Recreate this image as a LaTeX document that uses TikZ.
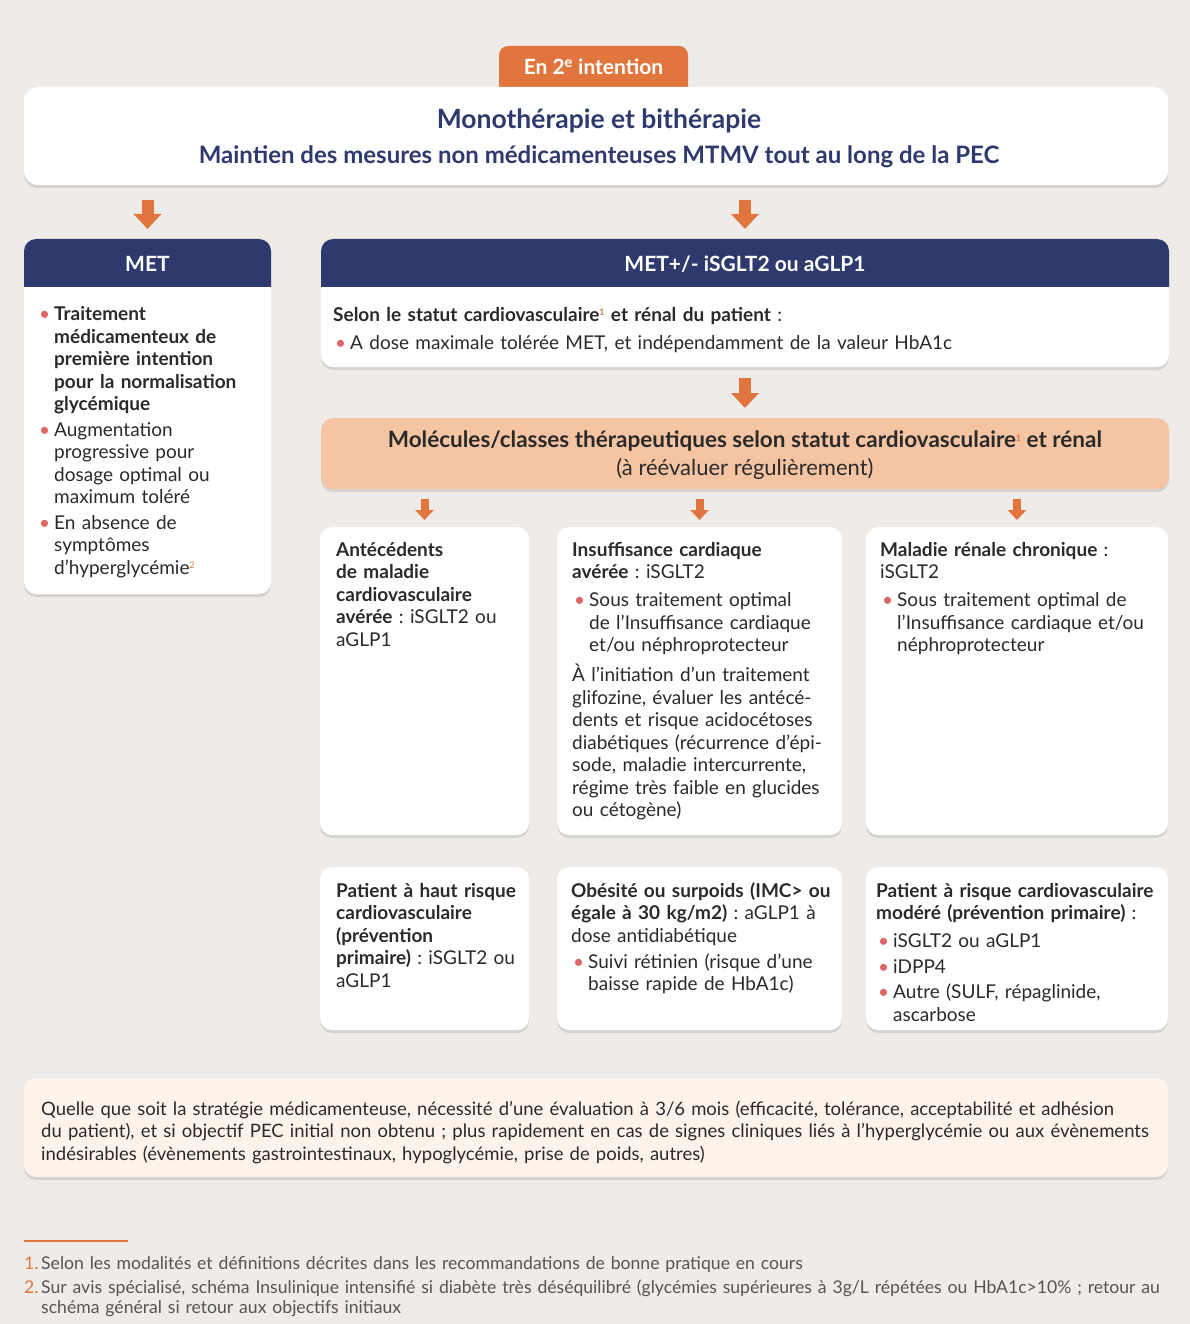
\documentclass[tikz,border=0pt]{standalone}
\usepackage{fontspec}
\setmainfont{Lato}
\usepackage{tikz}
\usetikzlibrary{positioning,arrows.meta,calc,shadows}
\definecolor{PageBg}{HTML}{EEEBE8}
\definecolor{Navy}{HTML}{2E3A6E}
\definecolor{Orng}{HTML}{E0763E}
\definecolor{Peach}{HTML}{F5C5A3}
\definecolor{Cream}{HTML}{FDF3EA}
\definecolor{Ink}{HTML}{2A2A2A}
\definecolor{Dot}{HTML}{E06666}
\definecolor{Note}{HTML}{555555}
\setlength{\parindent}{0pt}
\frenchspacing
\newcommand{\fl}{\rule{0pt}{18pt}}
\newcommand{\fn}[1]{\raisebox{6pt}{\fontsize{9}{9}\selectfont\textcolor{Orng}{#1}}}
\newcommand{\bitem}[2][3pt]{\par\vspace{#1}\noindent\hangindent=17pt\hangafter=1%
  \makebox[17pt][l]{\hspace{2pt}\textcolor{Dot}{\textbullet}}\fl#2\par}
\newcommand{\nitem}[2]{\par\noindent\hangindent=17pt\hangafter=1%
  \makebox[17pt][l]{\textcolor{Orng}{#1}}\rule{0pt}{16pt}#2\par}

\begin{document}
\begin{tikzpicture}[x=1pt,y=-1pt,
  font=\fontsize{19}{22.5}\selectfont,
  box/.style={fill=white,rounded corners=12pt,inner sep=0pt,outer sep=0pt,anchor=north west,
    drop shadow={shadow xshift=0pt,shadow yshift=-3pt,fill=black,opacity=.10}},
  tab/.style={fill=Orng,rounded corners=9pt,inner sep=0pt,outer sep=0pt},
  txt/.style={inner sep=0pt,anchor=north west,align=left,text=Ink},
  hd/.style={text=white,font=\fontsize{21}{24}\selectfont\bfseries},
  ar/.style={draw=Orng,line width=12pt,-{Triangle[width=27pt,length=15pt]}},
  sar/.style={draw=Orng,line width=8pt,-{Triangle[width=18pt,length=10pt]}},
]
\path[use as bounding box,fill=PageBg] (0,0) rectangle (1190,1324);

% tab and heading box
\node[tab,minimum width=189pt,minimum height=56pt,anchor=north] (tab) at (593.5,46) {};
\node[font=\fontsize{21}{24}\selectfont\bfseries,text=white] (tabT) at (593.5,67) {En 2\textsuperscript{e} intention};
\node[box,rounded corners=14pt,minimum width=1144pt,minimum height=98pt] (top) at (24,87) {};
\node[font=\fontsize{26.5}{30}\selectfont\bfseries,text=Navy] (ttl) at (599,121) {Monothérapie et bithérapie};
\node[font=\fontsize{24}{27}\selectfont\bfseries,text=Navy] (sub) at (599,157)
  {Maintien des mesures non médicamenteuses MTMV tout au long de la PEC};

% two treatment columns
\node[box,minimum width=247pt,minimum height=355pt] (met) at (24,239) {};
\node[box,minimum width=848pt,minimum height=128pt] (mix) at (321,239) {};
\foreach \b in {met,mix}{
  \begin{scope}
    \clip (\b.north west) rectangle ($(\b.north east)+(0,47)$);
    \fill[Navy,rounded corners=12pt] (\b.north west) rectangle (\b.south east);
  \end{scope}}
\node[hd] (metH) at ($(met.north)+(0,25)$) {MET};
\node[hd] (mixH) at ($(mix.north)+(0,25)$) {MET+/- iSGLT2 ou aGLP1};
\draw[ar] ($(top.south -| met.north)+(0,15)$) -- ($(met.north)+(0,-10)$);
\draw[ar] ($(top.south -| mix.north)+(0,15)$) -- ($(mix.north)+(0,-10)$);

\node[txt,text width=228pt] (metT) at (37,298) {%
  \bitem[0pt]{\textbf{Traitement\newline médicamenteux de\newline première intention\newline pour la normalisation\newline glycémique}}
  \bitem{Augmentation\newline progressive pour\newline dosage optimal ou\newline maximum toléré}
  \bitem{En absence de\newline symptômes\newline d'hyperglycémie\fn{2}}};
\node[txt,text width=820pt] (mixT) at (333,303) {%
  \fl\textbf{Selon le statut cardiovasculaire\fn{1} et rénal du patient} :
  \bitem[5.5pt]{A dose maximale tolérée MET, et indépendamment de la valeur HbA1c}};

% molecules by status
\node[box,fill=Peach,minimum width=848pt,minimum height=71pt] (mol) at (321,418) {};
\draw[ar] ($(mix.south)+(0,11)$) -- ($(mol.north)+(0,-10)$);
\node[font=\fontsize{22.5}{25}\selectfont\bfseries,text=Ink] (molT) at (745,441)
  {Molécules/classes thérapeutiques selon statut cardiovasculaire\fn{1} et rénal};
\node[font=\fontsize{22}{25}\selectfont,text=Ink] (molS) at (745,469) {(à réévaluer régulièrement)};

\node[box,minimum width=209pt,minimum height=308pt] (c1) at (320,527) {};
\node[box,minimum width=285pt,minimum height=308pt] (c2) at (557,527) {};
\node[box,minimum width=302pt,minimum height=308pt] (c3) at (866,527) {};
\node[box,minimum width=209pt,minimum height=163pt] (c4) at (320,867) {};
\node[box,minimum width=285pt,minimum height=163pt] (c5) at (557,867) {};
\node[box,minimum width=302pt,minimum height=163pt] (c6) at (866,867) {};
\foreach \c in {c1,c2,c3}
  \draw[sar] ($(mol.south -| \c.north)+(0,10)$) -- ($(\c.north)+(0,-7)$);

\node[txt,text width=190pt] (c1T) at (336,538) {%
  \fl\textbf{Antécédents\\ de maladie\\ cardiovasculaire\\ avérée} : iSGLT2 ou\\ aGLP1};
\node[txt,text width=270pt] (c2T) at (572,538) {%
  \fl\textbf{Insuffisance cardiaque\\ avérée} : iSGLT2
  \bitem[5.5pt]{Sous traitement optimal\newline de l'Insuffisance cardiaque\newline et/ou néphroprotecteur}
  \vspace{7.5pt}À l'initiation d'un traitement\\ glifozine, évaluer les antécé-\\ dents et risque acidocétoses\\
  diabétiques (récurrence d'épi-\\ sode, maladie intercurrente,\\ régime très faible en glucides\\ ou cétogène)};
\node[txt,text width=288pt] (c3T) at (880,538) {%
  \fl\textbf{Maladie rénale chronique} :\\ iSGLT2
  \bitem[5.5pt]{Sous traitement optimal de\newline l'Insuffisance cardiaque et/ou\newline néphroprotecteur}};
\node[txt,text width=190pt] (c4T) at (336,879) {%
  \fl\textbf{Patient à haut risque\\ cardiovasculaire\\ (prévention\\ primaire)} : iSGLT2 ou\\ aGLP1};
\node[txt,text width=270pt] (c5T) at (571,879) {%
  \fl\textbf{Obésité ou surpoids (IMC> ou\\ égale à 30 kg/m2)} : aGLP1 à\\ dose antidiabétique
  \bitem[3.5pt]{Suivi rétinien (risque d'une\newline baisse rapide de HbA1c)}};
\node[txt,text width=292pt] (c6T) at (876,879) {%
  \fl\textbf{Patient à risque cardiovasculaire\\ modéré (prévention primaire)} :
  \bitem[5.5pt]{iSGLT2 ou aGLP1}
  \bitem{iDPP4}
  \bitem{Autre (SULF, répaglinide,\newline ascarbose}};

% follow-up
\node[box,fill=Cream,minimum width=1144pt,minimum height=99pt] (eval) at (24,1078) {};
\node[txt,text width=1127pt,font=\fontsize{18.5}{22.5}\selectfont] (evalT) at (41,1097) {%
  \fl Quelle que soit la stratégie médicamenteuse, nécessité d'une évaluation à 3/6 mois (efficacité, tolérance, acceptabilité et adhésion\\
  du patient), et si objectif PEC initial non obtenu ; plus rapidement en cas de signes cliniques liés à l'hyperglycémie ou aux évènements\\
  indésirables (évènements gastrointestinaux, hypoglycémie, prise de poids, autres)};

% footnotes
\draw[Orng,line width=1.2pt] (24,1241) -- (128,1241);
\node[txt,text width=1166pt,text=Note,font=\fontsize{17.6}{19.5}\selectfont] (notes) at (24,1250) {%
  \nitem{1.}{Selon les modalités et définitions décrites dans les recommandations de bonne pratique en cours}
  \vspace{4.5pt}\nitem{2.}{Sur avis spécialisé, schéma Insulinique intensifié si diabète très déséquilibré (glycémies supérieures à 3g/L répétées ou HbA1c>10\% ; retour au\newline schéma général si retour aux objectifs initiaux}};
\end{tikzpicture}
\end{document}
